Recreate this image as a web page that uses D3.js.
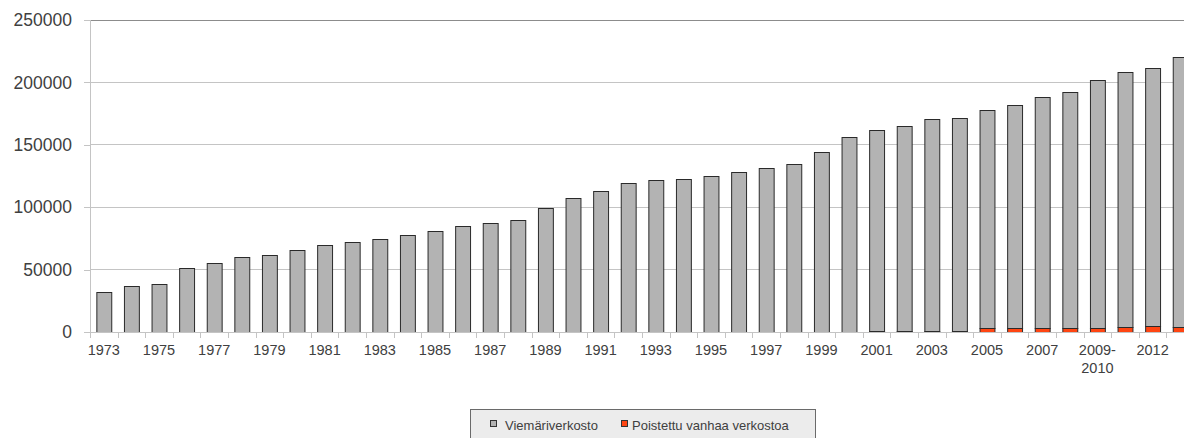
<!DOCTYPE html>
<html>
<head>
<meta charset="utf-8">
<script src="https://cdn.jsdelivr.net/npm/d3@7"></script>
<style>
  html, body { margin: 0; padding: 0; background: #fff; overflow: hidden; }
  text { font-family: "Liberation Sans", Arial, sans-serif; fill: #404040; }
</style>
</head>
<body>
<svg id="chart" width="1184" height="438"></svg>
<script>
const categories = ["1973","1974","1975","1976","1977","1978","1979","1980","1981","1982",
  "1983","1984","1985","1986","1987","1988","1989","1990","1991","1992",
  "1993","1994","1995","1996","1997","1998","1999","2000","2001","2002",
  "2003","2004","2005","2006","2007","2008","2009-2010","2011","2012","2013"];
// total network length (stack top)
const totals = [32200,36500,38700,51000,55200,59700,61900,66100,70100,72000,
  74900,78100,81300,85100,87200,90100,99700,107700,112800,119500,
  122100,122900,125100,128000,131700,134700,144500,156300,161900,165100,
  170400,171400,178100,181600,188000,192500,201900,208500,211700,220500];
const removed = [0,0,0,0,0,0,0,0,0,0,
  0,0,0,0,0,0,0,0,0,0,
  0,0,0,0,400,400,400,400,1100,1100,
  1100,1100,3000,3000,3000,3000,3000,3700,4800,4300];
const sewer = totals.map((t, i) => t - removed[i]);
const yTicks = [0,50000,100000,150000,200000,250000];
const seriesNames = ["Viemäriverkosto", "Poistettu vanhaa verkostoa"];
const seriesColors = ["#b3b3b3", "#ff4512"];

const svg = d3.select("#chart");
const x = d3.scaleBand().domain(categories).range([90, 1194]).paddingInner(0.46).paddingOuter(0.23);
const y = d3.scaleLinear().domain([0, 250000]).range([332, 20]);

// gridlines
svg.append("g").selectAll("line").data(yTicks.filter(d => d > 0)).join("line")
  .attr("x1", 90).attr("x2", 1194)
  .attr("y1", d => y(d)).attr("y2", d => y(d))
  .attr("stroke", (d) => d === 250000 ? "#8c8c8c" : "#c4c4c4").attr("stroke-width", 1)
  .attr("shape-rendering", "crispEdges");

// y axis
const yAxis = svg.append("g").attr("transform", "translate(90,0)")
  .call(d3.axisLeft(y).tickValues(yTicks).tickSize(6).tickPadding(12).tickFormat(d3.format("d")));
yAxis.select(".domain").attr("stroke", "#c4c4c4").attr("shape-rendering", "crispEdges");
yAxis.selectAll(".tick line").attr("stroke", "#c4c4c4").attr("shape-rendering", "crispEdges");
yAxis.selectAll(".tick text").style("font-size", "17.5px").attr("fill", "#404040")
  .style("font-family", '"Liberation Sans", Arial, sans-serif');

// stacked bars
const stackData = categories.map((c, i) => ({cat: c, removed: removed[i], sewer: sewer[i]}));
const stack = d3.stack().keys(["removed", "sewer"])(stackData);
const colorByKey = {removed: seriesColors[1], sewer: seriesColors[0]};
svg.append("g").selectAll("g").data(stack).join("g")
  .attr("fill", d => colorByKey[d.key])
  .selectAll("rect").data(d => d.filter(p => p[1] - p[0] > 0)).join("rect")
  .attr("x", d => x(d.data.cat) + 0.5)
  .attr("width", x.bandwidth())
  .attr("y", d => Math.round(y(d[1])) + 0.5)
  .attr("height", d => Math.max(0, Math.round(y(d[0])) - Math.round(y(d[1]))))
  .attr("stroke", "#2a2a2a").attr("stroke-width", 1);

// x axis
const step = x.step();
const bottom = svg.append("g");
bottom.append("line").attr("x1", 90).attr("x2", 1194).attr("y1", 332.5).attr("y2", 332.5)
  .attr("stroke", "#c4c4c4");
bottom.selectAll("line.t").data(d3.range(categories.length + 1)).join("line").attr("class", "t")
  .attr("x1", i => Math.round(90 + i * step) + 0.5).attr("x2", i => Math.round(90 + i * step) + 0.5)
  .attr("y1", 332).attr("y2", 338).attr("stroke", "#c4c4c4");
const labels = bottom.selectAll("text").data(categories.filter((c, i) => i % 2 === 0)).join("text")
  .attr("x", c => x(c) + x.bandwidth() / 2)
  .attr("y", 355)
  .attr("text-anchor", "middle")
  .style("font-size", "14.5px");
labels.each(function(c) {
  const t = d3.select(this);
  const parts = c.includes("-") ? [c.split("-")[0] + "-", c.split("-")[1]] : [c];
  parts.forEach((p, k) => {
    t.append("tspan").attr("x", x(c) + x.bandwidth() / 2).attr("dy", k === 0 ? 0 : 18).text(p);
  });
});

// legend
const lg = svg.append("g");
lg.append("rect").attr("x", 470.5).attr("y", 409.5).attr("width", 345).attr("height", 40)
  .attr("fill", "#ececec").attr("stroke", "#6a6a6a");
const legendItems = [
  {name: seriesNames[0], color: seriesColors[0], mx: 490, tx: 505},
  {name: seriesNames[1], color: seriesColors[1], mx: 621, tx: 632}
];
legendItems.forEach(it => {
  lg.append("rect").attr("x", it.mx + 0.5).attr("y", 420.5).attr("width", 6).attr("height", 6)
    .attr("fill", it.color).attr("stroke", "#333");
  lg.append("text").attr("x", it.tx).attr("y", 429.5).style("font-size", "13px").text(it.name);
});
</script>
</body>
</html>
